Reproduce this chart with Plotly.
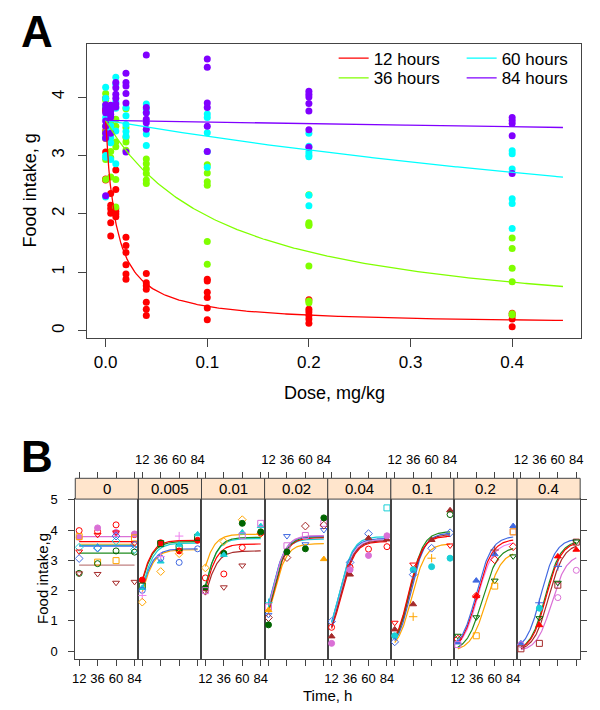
import numpy as np
import plotly.graph_objects as go

W, H = 600, 710
FONT = "Liberation Sans, Arial, sans-serif"
AX = "#444444"

# ---------------- Panel A data (food intake vs dose, by time) ----------------
a_doses = [0, 0.005, 0.01, 0.02, 0.04, 0.1, 0.2, 0.4]
a_time_labels = ["12 hours", "36 hours", "60 hours", "84 hours"]
a_12h = [
    [3.98, 3.81, 3.76, 3.42, 3.29, 3.06, 2.60, 2.58],
    [2.35, 2.15, 2.09, 2.01, 1.85, 1.62],
    [2.75, 2.42, 2.09, 2.04, 2.00, 1.95],
    [1.60, 1.46, 1.34, 1.13, 0.97, 0.88],
    [0.98, 0.82, 0.77, 0.71, 0.49, 0.37, 0.26],
    [0.88, 0.85, 0.66, 0.57, 0.39, 0.19],
    [0.53, 0.37, 0.32, 0.26, 0.20, 0.13],
    [0.30, 0.26, 0.20, 0.07],
]
a_36h = [
    [4.06, 3.95, 3.84, 3.50, 3.40, 3.37, 2.93, 2.59],
    [3.58, 3.55, 3.47, 3.07, 2.96, 2.63],
    [3.62, 3.50, 3.23, 3.15, 2.59, 2.12],
    [3.80, 3.48, 3.31, 3.23, 3.09],
    [2.94, 2.86, 2.77, 2.69, 2.58, 2.52],
    [2.84, 2.70, 2.55, 2.49, 1.53, 1.14],
    [2.33, 1.85, 1.82, 1.80, 1.11, 0.51, 0.48],
    [1.59, 1.41, 1.07, 0.84, 0.29, 0.27],
]
a_60h = [
    [4.17, 3.98, 3.85, 3.65, 3.30, 3.00, 2.97, 2.29],
    [3.80, 3.51, 3.42, 3.31, 3.22, 2.93],
    [4.34, 4.22, 3.92, 3.81, 3.42, 2.86],
    [3.82, 3.68, 3.53, 3.41, 3.33],
    [3.88, 3.79, 3.73, 3.37, 3.17],
    [3.71, 3.65, 3.39, 3.07, 2.80],
    [3.38, 3.16, 3.06, 3.01, 2.98, 2.32, 2.14],
    [3.08, 3.03, 2.77, 2.26, 2.18, 1.75],
]
a_84h = [
    [3.87, 3.80, 3.73, 3.59, 3.50, 3.38, 3.30, 2.31],
    [3.86, 3.76, 3.70, 3.66, 3.38],
    [4.25, 4.16, 4.05, 3.98, 3.88, 3.83],
    [4.41, 4.25, 4.19, 4.06, 3.90, 3.06],
    [4.72, 3.82, 3.73, 3.62, 3.56, 3.45],
    [4.65, 4.51, 3.90, 3.82, 3.50, 3.07],
    [4.10, 4.05, 4.00, 3.89, 3.76, 3.44, 3.14],
    [3.65, 3.60, 3.55, 3.34, 2.69],
]
# fitted inhibition model per time: E = Emin + (E0-Emin)*IC50/(IC50+dose)
a_fit_E0 = [3.6, 3.6, 3.6, 3.6]
a_fit_Emin = [0.10, 0.0, 0.0, 0.0]
a_fit_IC50 = [0.010, 0.12, 1.22, 13.0]
a_fit_dose_max = 0.45
a_colors = ["#FF0000", "#80FF00", "#00FFFF", "#8000FF"]

# ---------------- Panel B data (food intake vs time, by dose) ----------------
b_times = [12, 36, 60, 84]
b_panel_labels = ["0", "0.005", "0.01", "0.02", "0.04", "0.1", "0.2", "0.4"]

pts_0 = {
    "red_o": [3.98, 3.95, 4.17, 3.85],
    "orchid_f": [3.76, 4.07, 3.92, 3.87],
    "orange_sq": [3.78, 2.94, 2.99, 3.74],
    "cyan_d": [3.43, 3.42, 3.64, 3.36],
    "red_tdn": [3.29, 3.84, 3.92, 3.56],
    "blue_d": [3.06, 3.40, 3.80, 3.51],
    "green_o": [2.57, 2.89, 3.31, 3.27],
    "brown_tdn": [2.57, 2.55, 2.26, 2.29],
}
pts_0005 = {
    "red_f": [2.35, 3.58, 3.31, 3.66],
    "green_sq": [2.15, 3.55, 3.42, 3.76],
    "cyan_tri": [2.09, 2.96, 3.51, 3.86],
    "blue_o": [2.01, 3.07, 2.93, 3.38],
    "violet_plus": [1.84, 3.12, 3.80, None],
    "orange_d": [1.62, 2.63, 3.22, None],
}
pts_001 = {
    "orange_d": [2.75, 3.62, 4.34, 3.89],
    "red_o": [2.42, 2.55, 3.42, 3.90],
    "green_f": [2.09, 3.23, 4.22, 3.94],
    "brown_tdn": [1.95, 2.11, 2.83, None],
    "cyan_tri": [None, 3.18, 3.92, 4.13],
    "orchid_sq": [2.00, None, 3.81, 4.22],
}
pts_002 = {
    "cyan_plus": [1.60, None, None, None],
    "orchid_sq": [1.46, 3.48, 3.82, 4.22],
    "orange_tri": [1.36, None, None, 3.04],
    "blue_tdn": [1.20, 3.80, 3.53, 4.00],
    "brown_d": [1.11, 3.09, 4.13, 4.16],
    "green_f": [0.87, 3.28, 3.38, 4.40],
}
pts_004 = {
    "blue_d": [0.98, 2.93, 3.88, None],
    "red_o": [0.79, 2.77, 3.37, 3.45],
    "brown_tri": [0.49, 2.53, 3.73, 3.69],
    "orchid_f": [0.26, 2.69, 3.16, 3.81],
    "cyan_sq": [None, None, None, 4.73],
}
pts_01 = {
    "red_tdn": [0.94, 2.86, None, 3.49],
    "brown_tri": [0.72, 1.55, 3.67, 4.65],
    "cyan_f": [0.51, 2.69, 2.79, 3.07],
    "blue_d": [0.31, 2.53, 3.40, 3.91],
    "orange_plus": [None, 1.14, 3.07, None],
    "green_o": [None, None, None, 4.51],
}
pts_02 = {
    "green_tdn": [0.51, 1.12, 2.33, 3.13],
    "red_d": [0.40, 1.82, 3.02, 3.45],
    "blue_tri": [0.29, 2.33, 3.20, 4.13],
    "orchid_sq": [0.22, None, None, 3.94],
    "orange_sq": [None, 0.51, 2.15, 3.94],
    "brown_plus": [None, None, 3.34, None],
    "red_tri": [None, 1.82, None, None],
}
pts_04 = {
    "blue_tri": [0.26, None, None, None],
    "orchid_o": [0.22, None, 1.77, 2.67],
    "brown_sq": [0.08, 0.26, 2.18, 3.60],
    "blue_plus": [None, 1.60, 2.80, None],
    "cyan_f": [None, 1.42, None, None],
    "green_tdn": [None, 1.09, 2.26, 3.62],
    "red_tri": [None, 0.86, 3.13, 3.35],
}
b_points = [pts_0, pts_0005, pts_001, pts_002, pts_004, pts_01, pts_02, pts_04]

# fitted curves per subject: (E0, t50); E = E0/(1+exp(-(t-t50)/slope)); t50 None = flat
fit_0 = {"orchid": (3.78, None), "red": (3.62, None), "orange": (3.53, None),
         "cyan": (3.49, None), "blue": (3.47, None), "green": (3.24, None),
         "rosybrown": (2.84, None)}
fit_0005 = {"orange": (3.35, 9.0), "blue": (3.38, 8.0), "cyan": (3.57, 8.8),
            "green": (3.62, 7.0), "red": (3.66, 6.7)}
fit_001 = {"brown": (3.31, 9.6), "red": (3.54, 9.2), "cyan": (3.72, 9.0),
           "green": (3.76, 9.4), "orange": (3.86, 3.3)}
fit_002 = {"orange": (3.55, 17.5), "cyan": (3.70, 14.9), "red": (3.75, 17.7),
           "green": (3.78, 17.3), "blue": (3.80, 15.8), "orchid": (3.82, 16.3)}
fit_004 = {"orchid": (3.68, 23.0), "red": (3.62, 24.1), "brown": (3.65, 23.4),
           "blue": (3.72, 21.6), "cyan": (3.78, 21.8)}
fit_01 = {"orange": (3.55, 34.0), "blue": (3.90, 33.0), "brown": (3.85, 31.5),
          "green": (3.95, 31.3), "red": (3.80, 30.0)}
fit_02 = {"orange": (3.30, 49.0), "green": (3.45, 44.0), "violet": (3.60, 38.0),
          "red": (3.70, 37.0), "blue": (3.80, 36.0)}
fit_04 = {"orchid": (3.20, 52.0), "brown": (3.55, 48.0), "green": (3.65, 44.0),
          "red": (3.62, 45.0), "blue": (3.72, 38.0)}
b_fits = [fit_0, fit_0005, fit_001, fit_002, fit_004, fit_01, fit_02, fit_04]
b_slope = [None, 9.0, 9.0, 9.0, 9.0, 9.0, 10.0, 9.7]

# ---------------- styles ----------------
COL = {"red": "#FF0000", "orange": "#FFA500", "green": "#1E8B1E", "cyan": "#19CFD6",
       "blue": "#4169E1", "orchid": "#DA70D6", "brown": "#A52A2A",
       "rosybrown": "#C08080", "violet": "#EE82EE"}
PT_COL = dict(COL, green="#006400")
SYM = {"o": "circle-open", "f": "circle", "sq": "square-open", "d": "diamond-open",
       "tdn": "triangle-down-open", "tri": "triangle-up", "plus": "cross-thin-open"}


def px(x):
    return x / W


def py(y):
    return 1 - y / H


fig = go.Figure()

# ---------------- Panel A traces ----------------
for lbl, col, vals in zip(a_time_labels, a_colors, [a_12h, a_36h, a_60h, a_84h]):
    xs = [d for d, vv in zip(a_doses, vals) for _ in vv]
    ys = [v for vv in vals for v in vv]
    fig.add_trace(go.Scatter(x=xs, y=ys, mode="markers", showlegend=False,
                             marker=dict(color=col, size=7, line=dict(width=0)),
                             xaxis="x", yaxis="y", hoverinfo="skip"))
dgrid = np.linspace(0, a_fit_dose_max, 300)
# legend rows: 12 & 60 hours on the first row, 36 & 84 hours on the second
for i, (lbl, col) in enumerate(zip(a_time_labels, a_colors)):
    e0, emin, ic = a_fit_E0[i], a_fit_Emin[i], a_fit_IC50[i]
    yfit = emin + (e0 - emin) * ic / (ic + dgrid)
    fig.add_trace(go.Scatter(x=dgrid, y=yfit, mode="lines", name=lbl,
                             line=dict(color=col, width=1.3),
                             legend="legend" if i in (0, 2) else "legend2",
                             xaxis="x", yaxis="y", hoverinfo="skip"))

# ---------------- Panel B traces ----------------
tgrid = np.linspace(12, 84, 120)
PW = 63.75
B_LEFT, B_TOP, B_BOT, STRIP_TOP = 73.0, 497.0, 658.0, 476.0
layout_axes = {}
shapes = []
annotations = []
for k in range(8):
    xa, ya = f"x{k + 2}", f"y{k + 2}"
    for key, (e0, t50) in b_fits[k].items():
        if t50 is None:
            yfit = np.full_like(tgrid, e0)
        else:
            yfit = e0 / (1 + np.exp(-(tgrid - t50) / b_slope[k]))
        fig.add_trace(go.Scatter(x=tgrid, y=yfit, mode="lines", showlegend=False,
                                 line=dict(color=COL[key], width=1.2),
                                 xaxis=xa, yaxis=ya, hoverinfo="skip"))
    for key, vals in b_points[k].items():
        cname, sname = key.split("_")
        c = PT_COL[cname]
        xs = [t for t, v in zip(b_times, vals) if v is not None]
        ys = [v for v in vals if v is not None]
        fig.add_trace(go.Scatter(x=xs, y=ys, mode="markers", showlegend=False,
                                 marker=dict(symbol=SYM[sname], color=c, size=6,
                                             line=dict(width=1, color=c)),
                                 xaxis=xa, yaxis=ya, hoverinfo="skip"))
    fig.add_trace(go.Scatter(x=[None], y=[None], showlegend=False,
                             xaxis=f"x{k + 10}", yaxis=ya, hoverinfo="skip"))

    left = B_LEFT + k * PW
    right = left + PW
    layout_axes[f"xaxis{k + 2}"] = dict(
        domain=[px(left), px(right)], range=[6.96, 89.04], anchor=ya,
        tickvals=b_times, ticks="outside", ticklen=6, tickcolor=AX,
        showticklabels=(k % 2 == 0), tickfont=dict(size=13, color="black"),
        ticklabelstandoff=2,
        showline=True, mirror=True, linecolor=AX, linewidth=1,
        showgrid=False, zeroline=False, fixedrange=True)
    yax = dict(domain=[py(B_BOT), py(B_TOP)], range=[-0.24, 5.02], anchor=xa,
               tickvals=[0, 1, 2, 3, 4, 5], showline=True, mirror=True,
               linecolor=AX, linewidth=1, showgrid=False, zeroline=False,
               tickfont=dict(size=13, color="black"), fixedrange=True)
    if k == 0:
        yax.update(ticks="outside", ticklen=6, tickcolor=AX, showticklabels=True,
                   ticklabelstandoff=8)
    elif k == 7:
        yax.update(side="right", ticks="outside", ticklen=6, tickcolor=AX,
                   showticklabels=False)
    else:
        yax.update(ticks="", showticklabels=False)
    layout_axes[f"yaxis{k + 2}"] = yax
    layout_axes[f"xaxis{k + 10}"] = dict(
        overlaying=xa, anchor="free", position=py(STRIP_TOP), side="top",
        range=[6.96, 89.04], tickvals=b_times, ticks="outside", ticklen=6,
        tickcolor=AX, showticklabels=(k % 2 == 1),
        tickfont=dict(size=13, color="black"), ticklabelstandoff=3,
        showline=False, showgrid=False, zeroline=False, fixedrange=True)
    shapes.append(dict(type="rect", xref="paper", yref="paper",
                       x0=px(left), x1=px(right), y0=py(B_TOP), y1=py(STRIP_TOP),
                       fillcolor="#FFE5CC", line=dict(color=AX, width=1)))
    annotations.append(dict(text=b_panel_labels[k], xref="paper", yref="paper",
                            x=px((left + right) / 2), y=py((B_TOP + STRIP_TOP) / 2),
                            showarrow=False, font=dict(size=15, color="black"),
                            xanchor="center", yanchor="middle"))

annotations += [
    dict(text="<b>A</b>", x=px(34), y=py(25), font=dict(size=44, color="black")),
    dict(text="<b>B</b>", x=px(34), y=py(454), font=dict(size=44, color="black")),
    dict(text="Food intake, g", x=px(27), y=py(185.5), textangle=-90,
         font=dict(size=18, color="black")),
    dict(text="Dose, mg/kg", x=px(334.5), y=py(390), font=dict(size=18, color="black")),
    dict(text="Food intake,g", x=px(40), y=py(577), textangle=-90,
         font=dict(size=15, color="black")),
    dict(text="Time, h", x=px(328), y=py(695), font=dict(size=15, color="black")),
]
for a in annotations[-6:]:
    a.update(xref="paper", yref="paper", showarrow=False,
             xanchor="center", yanchor="middle")

leg_common = dict(orientation="h", xanchor="left", yanchor="middle",
                  bgcolor="rgba(0,0,0,0)", font=dict(size=17, color="black"),
                  tracegroupgap=0, entrywidth=83, entrywidthmode="pixels")

fig.update_layout(
    width=W, height=H, margin=dict(l=0, r=0, t=0, b=0),
    paper_bgcolor="white", plot_bgcolor="white",
    font=dict(family=FONT, color="black"),
    xaxis=dict(domain=[px(85), px(584)], range=[-0.0182, 0.4679], anchor="y",
               tickvals=[0, 0.1, 0.2, 0.3, 0.4],
               ticktext=["0.0", "0.1", "0.2", "0.3", "0.4"],
               ticks="outside", ticklen=8, tickcolor=AX, ticklabelstandoff=1,
               tickfont=dict(size=17, color="black"),
               showline=True, mirror=True, linecolor=AX, linewidth=1,
               showgrid=False, zeroline=False, fixedrange=True),
    yaxis=dict(domain=[py(334), py(37)], range=[-0.119, 4.915], anchor="x",
               tickvals=[0, 1, 2, 3, 4], tickangle=-90,
               ticks="outside", ticklen=8, tickcolor=AX, ticklabelstandoff=7,
               tickfont=dict(size=17, color="black"),
               showline=True, mirror=True, linecolor=AX, linewidth=1,
               showgrid=False, zeroline=False, fixedrange=True),
    legend=dict(x=px(334), y=py(52), **leg_common),
    legend2=dict(x=px(334), y=py(72), **leg_common),
    shapes=shapes, annotations=annotations, showlegend=True,
    **layout_axes,
)

fig.write_html("out.html", config={"displayModeBar": False},
               post_script="document.body.style.margin='0px';"
                           "document.body.style.padding='0px';")
